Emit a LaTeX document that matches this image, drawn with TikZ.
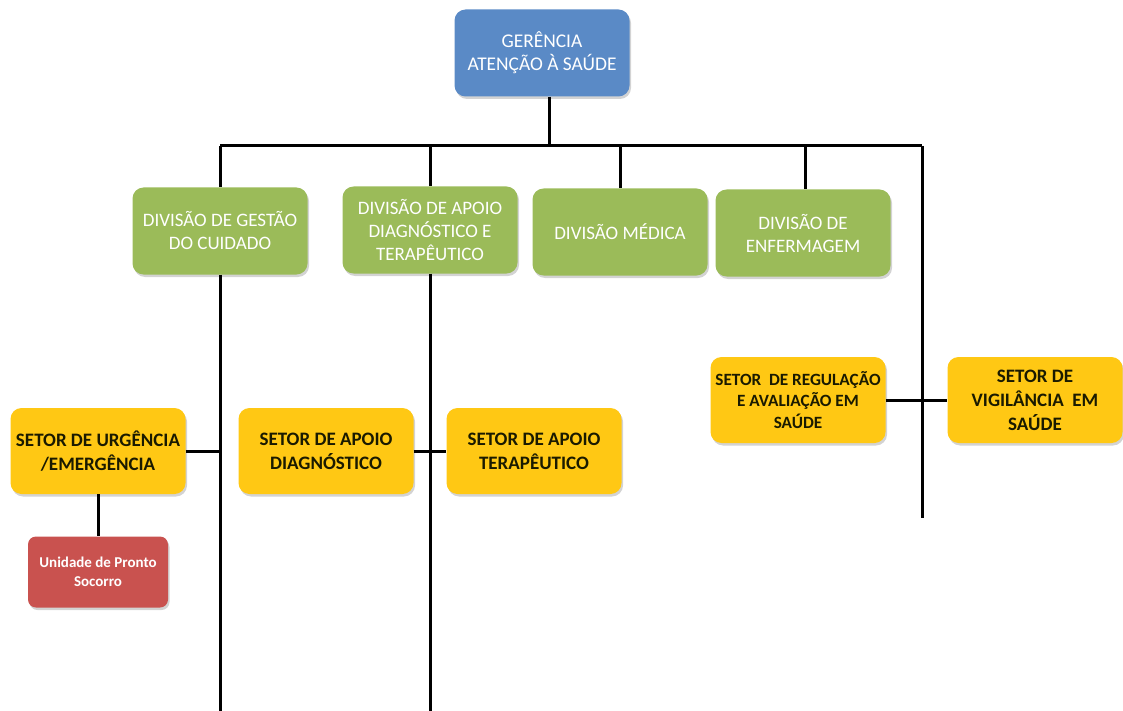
\documentclass[tikz,border=0pt]{standalone}
\usepackage{fontspec}
\setmainfont{Carlito}
\usetikzlibrary{shadows}
\definecolor{cblue}{HTML}{5A8AC6}
\definecolor{cgreen}{HTML}{9BBB59}
\definecolor{cyellow}{HTML}{FFC814}
\definecolor{cred}{HTML}{C9524F}
\definecolor{ctext}{HTML}{1A1A00}
\begin{document}
\begin{tikzpicture}[x=1pt,y=-1pt,
  boxbase/.style={rounded corners=11pt, draw=none, align=center, inner sep=1pt,
    drop shadow={shadow xshift=1.5pt, shadow yshift=-2.5pt, opacity=0.35}},
  bluebox/.style={boxbase, fill=cblue, text=white, minimum width=175pt, minimum height=87pt, font=\fontsize{19.4}{23}\selectfont},
  greenbox/.style={boxbase, fill=cgreen, text=white, minimum width=175pt, minimum height=87pt, font=\fontsize{19}{23}\selectfont},
  yellowbox/.style={boxbase, fill=cyellow, text=ctext, minimum width=175pt, minimum height=86pt, font=\bfseries\fontsize{19}{24}\selectfont},
  smallyellow/.style={yellowbox, font=\bfseries\fontsize{17.2}{21.5}\selectfont},
  redbox/.style={boxbase, rounded corners=8pt, fill=cred, text=white, minimum width=140pt, minimum height=71pt, font=\bfseries\fontsize{15}{19}\selectfont},
  conn/.style={line width=3pt, black}
]
\useasboundingbox (0,0) rectangle (1123,711);

\node[bluebox] (ger) at (542,53) {GERÊNCIA\\ATENÇÃO À SAÚDE};

\node[greenbox] (gest) at (220,231) {DIVISÃO DE GESTÃO\\DO CUIDADO};
\node[greenbox] (apoio) at (430,230) {DIVISÃO DE APOIO\\DIAGNÓSTICO E\\TERAPÊUTICO};
\node[greenbox] (med) at (620,232) {DIVISÃO MÉDICA};
\node[greenbox] (enf) at (803,233) {DIVISÃO DE\\ENFERMAGEM};

\node[yellowbox] (urg) at (98,451) {SETOR DE URGÊNCIA\\/EMERGÊNCIA};
\node[yellowbox] (diag) at (326,451) {SETOR DE APOIO\\DIAGNÓSTICO};
\node[yellowbox] (ter) at (534,451) {SETOR DE APOIO\\TERAPÊUTICO};
\node[smallyellow] (reg) at (798,400) {SETOR \ DE REGULAÇÃO\\E AVALIAÇÃO EM\\SAÚDE};
\node[yellowbox] (vig) at (1035,400) {SETOR DE\\VIGILÂNCIA \ EM\\SAÚDE};

\node[redbox] (ups) at (98,572) {Unidade de Pronto\\Socorro};

\coordinate (hl) at (220,146);
\coordinate (hr) at (922,146);
\coordinate (gbot) at (220,711);
\coordinate (abot) at (430,711);
\coordinate (rbot) at (922,518);

\begin{scope}[on background layer/.try]
\draw[conn] (ger.south -| 549,0) -- (549,146);
\draw[conn] (hl) -- (hr);
\draw[conn] (hl) -- (gest.north);
\draw[conn] (430,146) -- (apoio.north);
\draw[conn] (620,146) -- (med.north);
\draw[conn] (805,146) -- (805,0 |- enf.north);
\draw[conn] (hr) -- (rbot);
\draw[conn] (gest.south) -- (gbot);
\draw[conn] (apoio.south) -- (abot);
\draw[conn] (urg.east) -- (220,451);
\draw[conn] (diag.east) -- (ter.west);
\draw[conn] (reg.east) -- (vig.west);
\draw[conn] (urg.south) -- (ups.north);
\end{scope}
\end{tikzpicture}
\end{document}
